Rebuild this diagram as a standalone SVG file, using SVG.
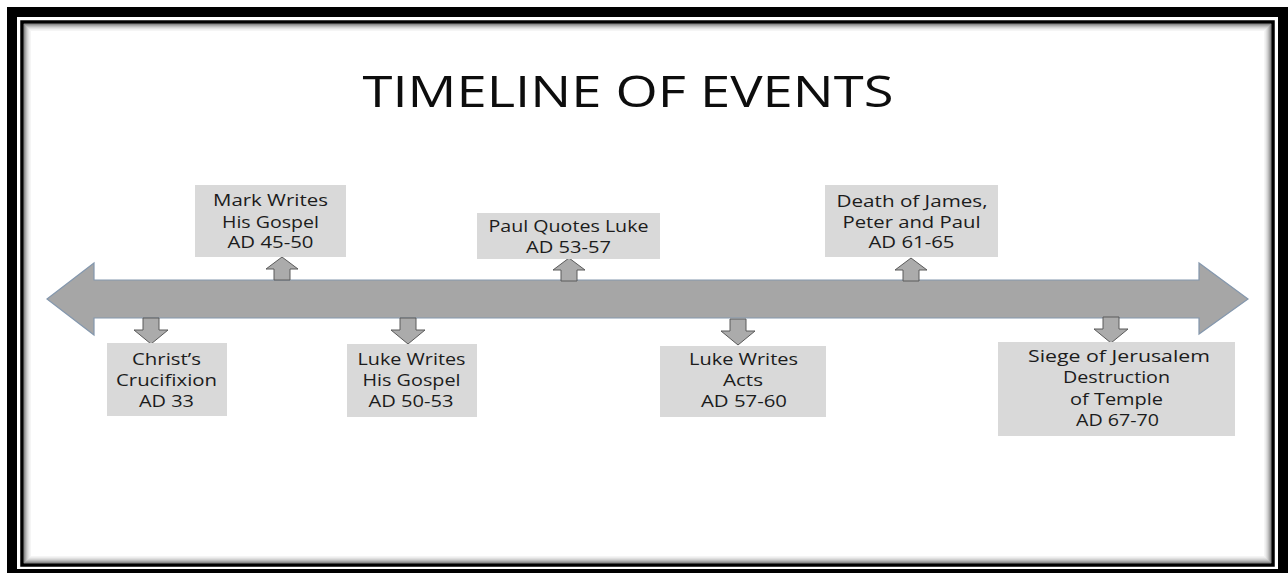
<svg xmlns="http://www.w3.org/2000/svg" width="1288" height="573" viewBox="0 0 1288 573">
  <defs>
    <style>
      .box { fill: #d9d9d9; }
      .t { font-family: "Open Sans", "Liberation Sans", sans-serif; font-size: 16.5px; fill: #1c1c1c; text-anchor: middle; }
      .title { font-family: "Open Sans", "Liberation Sans", sans-serif; font-size: 44px; fill: #0d0d0d; }
      .sh { fill: none; stroke: #000; }
      .small { fill: #ababab; stroke: #5a5a5a; stroke-width: 1; stroke-linejoin: miter; }
    </style>
    <path id="up" d="M0,-23 L16,-11 L8,-11 L8,0 L-8,0 L-8,-11 L-16,-11 Z"/>
    <path id="down" d="M-8,0 L8,0 L8,12 L17,12 L0,26 L-17,12 L-8,12 Z"/>
  </defs>

  <rect x="0" y="0" width="1288" height="573" fill="#ffffff"/>

  <g id="frame">
    <rect x="12" y="12" width="1271" height="562" fill="none" stroke="#000" stroke-width="10"/>
    <rect x="22" y="22" width="1251" height="543" fill="none" stroke="#000" stroke-width="3.5"/>
    <rect class="sh" x="24.5" y="24.5" width="1246" height="538" stroke-opacity="0.45"/>
    <rect class="sh" x="25.5" y="25.5" width="1244" height="536" stroke-opacity="0.35"/>
    <rect class="sh" x="26.5" y="26.5" width="1242" height="534" stroke-opacity="0.26"/>
    <rect class="sh" x="27.5" y="27.5" width="1240" height="532" stroke-opacity="0.18"/>
    <rect class="sh" x="28.5" y="28.5" width="1238" height="530" stroke-opacity="0.12"/>
    <rect class="sh" x="29.5" y="29.5" width="1236" height="528" stroke-opacity="0.07"/>
    <rect class="sh" x="30.5" y="30.5" width="1234" height="526" stroke-opacity="0.04"/>
  </g>

  <g id="title">
    <text class="title" x="362.5" y="107" textLength="531" lengthAdjust="spacingAndGlyphs">TIMELINE OF EVENTS</text>
  </g>

  <g id="timeline">
    <polygon points="47,299 94,263 94,280 1199,280 1199,263 1248,299 1199,334 1199,318 94,318 94,335" fill="#a6a6a6" stroke="#8497ad" stroke-width="1.2" stroke-linejoin="miter"/>
  </g>

  <g id="connectors">
    <use href="#up" class="small" transform="translate(282,280)"/>
    <use href="#up" class="small" transform="translate(569,281)"/>
    <use href="#up" class="small" transform="translate(911,281)"/>
    <use href="#down" class="small" transform="translate(151,318)"/>
    <use href="#down" class="small" transform="translate(408,318)"/>
    <use href="#down" class="small" transform="translate(738,319)"/>
    <use href="#down" class="small" transform="translate(1111,317)"/>
  </g>

  <g id="mark">
    <rect class="box" x="195" y="185" width="151" height="72"/>
    <text class="t" x="270.5" y="206" textLength="115" lengthAdjust="spacingAndGlyphs">Mark Writes</text>
    <text class="t" x="270.5" y="227.5" textLength="97" lengthAdjust="spacingAndGlyphs">His Gospel</text>
    <text class="t" x="270.5" y="248" textLength="86" lengthAdjust="spacingAndGlyphs">AD 45-50</text>
  </g>

  <g id="paul">
    <rect class="box" x="477" y="213" width="183" height="46"/>
    <text class="t" x="568.5" y="232" textLength="160" lengthAdjust="spacingAndGlyphs">Paul Quotes Luke</text>
    <text class="t" x="568.5" y="253" textLength="85" lengthAdjust="spacingAndGlyphs">AD 53-57</text>
  </g>

  <g id="death">
    <rect class="box" x="825" y="185" width="173" height="72"/>
    <text class="t" x="912" y="207" textLength="151" lengthAdjust="spacingAndGlyphs">Death of James,</text>
    <text class="t" x="911.5" y="227.5" textLength="138" lengthAdjust="spacingAndGlyphs">Peter and Paul</text>
    <text class="t" x="911.5" y="248" textLength="86" lengthAdjust="spacingAndGlyphs">AD 61-65</text>
  </g>

  <g id="christ">
    <rect class="box" x="107" y="343" width="120" height="73"/>
    <text class="t" x="166.5" y="365" textLength="69" lengthAdjust="spacingAndGlyphs">Christ’s</text>
    <text class="t" x="166.5" y="386" textLength="101" lengthAdjust="spacingAndGlyphs">Crucifixion</text>
    <text class="t" x="166.5" y="407" textLength="55" lengthAdjust="spacingAndGlyphs">AD 33</text>
  </g>

  <g id="luke-gospel">
    <rect class="box" x="347" y="344" width="130" height="73"/>
    <text class="t" x="411.5" y="365" textLength="108" lengthAdjust="spacingAndGlyphs">Luke Writes</text>
    <text class="t" x="411.5" y="386" textLength="98" lengthAdjust="spacingAndGlyphs">His Gospel</text>
    <text class="t" x="411" y="407" textLength="85" lengthAdjust="spacingAndGlyphs">AD 50-53</text>
  </g>

  <g id="luke-acts">
    <rect class="box" x="660" y="346" width="166" height="71"/>
    <text class="t" x="743.5" y="364.5" textLength="109" lengthAdjust="spacingAndGlyphs">Luke Writes</text>
    <text class="t" x="743" y="386" textLength="40" lengthAdjust="spacingAndGlyphs">Acts</text>
    <text class="t" x="744" y="407" textLength="86" lengthAdjust="spacingAndGlyphs">AD 57-60</text>
  </g>

  <g id="siege">
    <rect class="box" x="998" y="342" width="237" height="94"/>
    <text class="t" x="1119" y="362" textLength="182" lengthAdjust="spacingAndGlyphs">Siege of Jerusalem</text>
    <text class="t" x="1116.5" y="383" textLength="107" lengthAdjust="spacingAndGlyphs">Destruction</text>
    <text class="t" x="1116.5" y="404.5" textLength="93" lengthAdjust="spacingAndGlyphs">of Temple</text>
    <text class="t" x="1117.5" y="426" textLength="83" lengthAdjust="spacingAndGlyphs">AD 67-70</text>
  </g>
</svg>
